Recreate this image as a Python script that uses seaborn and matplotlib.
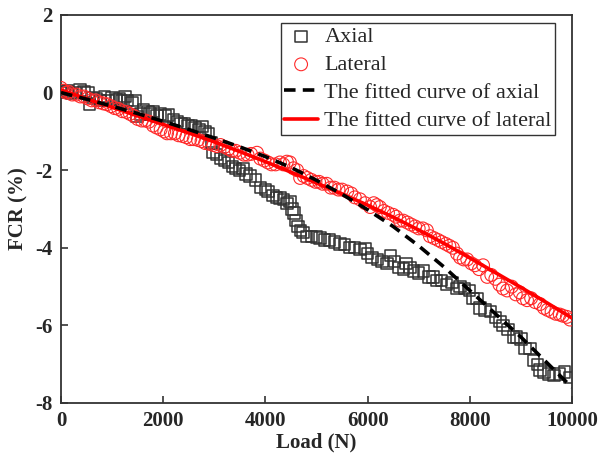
import numpy as np
import pandas as pd
import matplotlib
matplotlib.use("Agg")
import matplotlib.pyplot as plt
import seaborn as sns

# ---------------- data ----------------
axial_load = [0, 60, 120, 200, 280, 370, 450, 530, 560, 620, 700, 780, 850, 920, 1000,
              1080, 1150, 1190, 1250, 1300, 1390, 1450, 1490, 1550, 1620, 1700, 1740, 1800,
              1880, 1950, 2035, 2100, 2200, 2280, 2350, 2420, 2485, 2550, 2620, 2700, 2760,
              2820, 2880, 2950, 2975, 3050, 3120, 3200, 3280, 3350, 3420, 3500, 3560, 3620,
              3700, 3800, 3900, 4000, 4050, 4150, 4220, 4285, 4350, 4420, 4480, 4520, 4560,
              4600, 4640, 4690, 4735, 4800, 4900, 5000, 5070, 5150, 5250, 5350, 5460, 5550,
              5650, 5750, 5850, 5950, 6000, 6085, 6200, 6280, 6380, 6450, 6520, 6600, 6700,
              6750, 6830, 6900, 7000, 7100, 7200, 7280, 7350, 7450, 7550, 7650, 7750, 7810,
              7900, 8000, 8060, 8140, 8200, 8300, 8400, 8500, 8590, 8650, 8750, 8850, 8920,
              9000, 9080, 9180, 9250, 9320, 9375, 9450, 9550, 9650, 9750, 9850, 9950]
axial_fcr = [0.02, 0.0, 0.05, -0.02, 0.0, 0.07, 0.03, 0.0, -0.3, -0.12, -0.15, -0.2, -0.1,
             -0.2, -0.12, -0.18, -0.15, -0.22, -0.1, -0.2, -0.27, -0.2, -0.62, -0.55, -0.45,
             -0.5, -0.55, -0.48, -0.6, -0.55, -0.6, -0.58, -0.7, -0.75, -0.8, -0.8, -0.85,
             -0.85, -0.9, -0.95, -0.88, -1.0, -1.05, -1.3, -1.55, -1.6, -1.7, -1.75, -1.8,
             -1.9, -1.95, -2.0, -1.95, -2.1, -2.15, -2.25, -2.45, -2.5, -2.55, -2.65, -2.7,
             -2.72, -2.75, -2.85, -2.8, -3.0, -3.1, -3.3, -3.45, -3.55, -3.6, -3.7, -3.7,
             -3.72, -3.75, -3.8, -3.8, -3.85, -3.9, -3.92, -4.0, -4.0, -4.05, -4.02, -4.15,
             -4.25, -4.3, -4.35, -4.4, -4.2, -4.35, -4.5, -4.55, -4.4, -4.5, -4.6, -4.65,
             -4.6, -4.75, -4.75, -4.85, -4.85, -4.95, -4.9, -5.05, -5.0, -5.05, -5.1, -5.3,
             -5.3, -5.55, -5.6, -5.65, -5.8, -5.9, -6.0, -6.1, -6.3, -6.3, -6.35, -6.6, -6.6,
             -6.9, -7.0, -7.15, -7.2, -7.25, -7.3, -7.25, -7.2, -7.35]

lateral_load = [0, 50, 100, 150, 220, 300, 380, 450, 520, 600, 680, 750, 830, 900, 980,
                1050, 1120, 1200, 1280, 1350, 1420, 1500, 1580, 1650, 1720, 1800, 1870, 1950,
                2020, 2075, 2150, 2230, 2300, 2380, 2450, 2530, 2600, 2680, 2750, 2820, 2900,
                2980, 3050, 3120, 3200, 3280, 3350, 3420, 3500, 3580, 3650, 3720, 3835, 3900,
                3980, 4050, 4120, 4200, 4285, 4350, 4420, 4480, 4550, 4620, 4680, 4750, 4820,
                4900, 4980, 5050, 5120, 5200, 5280, 5350, 5430, 5500, 5600, 5680, 5750, 5850,
                5950, 6050, 6120, 6180, 6240, 6320, 6400, 6500, 6560, 6630, 6700, 6780, 6850,
                6930, 7000, 7080, 7160, 7220, 7300, 7380, 7450, 7530, 7600, 7670, 7750, 7810,
                7880, 7950, 8030, 8100, 8180, 8260, 8340, 8420, 8500, 8580, 8650, 8730, 8820,
                8900, 8980, 9040, 9120, 9200, 9280, 9375, 9450, 9520, 9600, 9680, 9760, 9820,
                9900, 9960]
lateral_fcr = [0.12, 0.05, 0.0, 0.02, -0.05, -0.05, -0.1, -0.1, -0.15, -0.2, -0.2, -0.25,
               -0.28, -0.3, -0.35, -0.4, -0.42, -0.48, -0.5, -0.55, -0.6, -0.68, -0.72, -0.72,
               -0.75, -0.85, -0.9, -0.95, -1.0, -1.05, -1.05, -1.05, -1.1, -1.12, -1.15, -1.2,
               -1.2, -1.22, -1.25, -1.3, -1.32, -1.35, -1.38, -1.35, -1.4, -1.45, -1.5, -1.5,
               -1.55, -1.6, -1.6, -1.58, -1.55, -1.7, -1.75, -1.8, -1.85, -1.85, -1.8, -1.85,
               -1.78, -1.8, -1.95, -2.0, -2.2, -2.15, -2.2, -2.25, -2.3, -2.3, -2.35, -2.35,
               -2.45, -2.45, -2.5, -2.5, -2.55, -2.6, -2.7, -2.75, -2.85, -2.95, -2.85, -2.9,
               -2.95, -3.05, -3.1, -3.15, -3.2, -3.3, -3.3, -3.35, -3.4, -3.45, -3.5, -3.5,
               -3.55, -3.7, -3.75, -3.8, -3.85, -3.9, -3.95, -4.0, -4.15, -4.25, -4.3, -4.3,
               -4.4, -4.45, -4.55, -4.45, -4.75, -4.7, -4.8, -4.95, -5.05, -5.1, -5.0, -5.2,
               -5.15, -5.3, -5.35, -5.3, -5.4, -5.45, -5.55, -5.6, -5.65, -5.7, -5.72, -5.75,
               -5.78, -5.85]

fit_load = [0, 500, 1000, 1500, 2000, 2500, 3000, 3500, 4000, 4500, 5000, 5500, 6000,
            6500, 7000, 7500, 8000, 8500, 9000, 9500, 10000]
fit_axial = [0.0, -0.17, -0.35, -0.54, -0.74, -0.95, -1.17, -1.40, -1.65, -1.93, -2.26,
             -2.62, -3.02, -3.45, -3.95, -4.5, -5.1, -5.7, -6.3, -6.95, -7.6]
fit_lateral = [0.07, -0.16, -0.38, -0.60, -0.82, -1.04, -1.27, -1.52, -1.78, -2.05, -2.33,
               -2.61, -2.90, -3.21, -3.54, -3.89, -4.26, -4.64, -5.02, -5.41, -5.81]

x_ticks = [0, 2000, 4000, 6000, 8000, 10000]
y_ticks = [2, 0, -2, -4, -6, -8]

# ---------------- style ----------------
sns.set_style("ticks")
plt.rcParams['font.family'] = ['Liberation Serif', 'DejaVu Serif']
plt.rcParams['mathtext.fontset'] = 'stix'

fig = plt.figure(figsize=(5.98, 4.59), dpi=100)
ax = fig.add_axes([61/598, 56/459, 511/598, 388/459])

df_ax = pd.DataFrame({"Load": axial_load, "FCR": axial_fcr})
df_lat = pd.DataFrame({"Load": lateral_load, "FCR": lateral_fcr})
df_fit = pd.DataFrame({"Load": fit_load, "Axial": fit_axial, "Lateral": fit_lateral})

sns.scatterplot(data=df_ax, x="Load", y="FCR", ax=ax, marker="s", s=66,
                facecolor="none", edgecolor="#333333", linewidth=1.1,
                label="Axial", zorder=2)
sns.scatterplot(data=df_lat, x="Load", y="FCR", ax=ax, marker="o", s=85,
                facecolor="none", edgecolor="#ff2a2a", linewidth=0.8,
                label="Lateral", zorder=3)
sns.lineplot(data=df_fit, x="Load", y="Axial", ax=ax, color="black", lw=2.6,
             dashes=False, label="The fitted curve of axial", zorder=5)
ax.lines[-1].set_dashes((3.2, 2.0))
sns.lineplot(data=df_fit, x="Load", y="Lateral", ax=ax, color="#ff0000", lw=2.6,
             label="The fitted curve of lateral", zorder=4)

ax.set_xlim(0, 10000)
ax.set_ylim(-8, 2)
ax.set_xticks(x_ticks)
ax.set_yticks(y_ticks)
ax.set_xticklabels([str(v) for v in x_ticks], fontweight="bold", fontsize=15)
ax.set_yticklabels([str(v) for v in y_ticks], fontweight="bold", fontsize=15)
ax.tick_params(direction="in", length=5, width=1.2, color="#333333",
               top=False, right=False, pad=6)
for sp in ax.spines.values():
    sp.set_linewidth(1.3)
    sp.set_color("#333333")
    sp.set_visible(True)

ax.set_xlabel("Load (N)", fontweight="bold", fontsize=15, labelpad=1)
ax.set_ylabel("FCR (%)", fontweight="bold", fontsize=15, labelpad=5)

handles, labels = ax.get_legend_handles_labels()
leg = ax.legend(handles, labels, loc="upper right", bbox_to_anchor=(0.967, 0.979),
                borderaxespad=0, fontsize=16, frameon=True, fancybox=False,
                edgecolor="#333333", framealpha=1, handlelength=1.5,
                handletextpad=0.3, labelspacing=0.34, borderpad=0.15)
leg.get_frame().set_linewidth(1.0)

fig.savefig("out.png", dpi=100)
